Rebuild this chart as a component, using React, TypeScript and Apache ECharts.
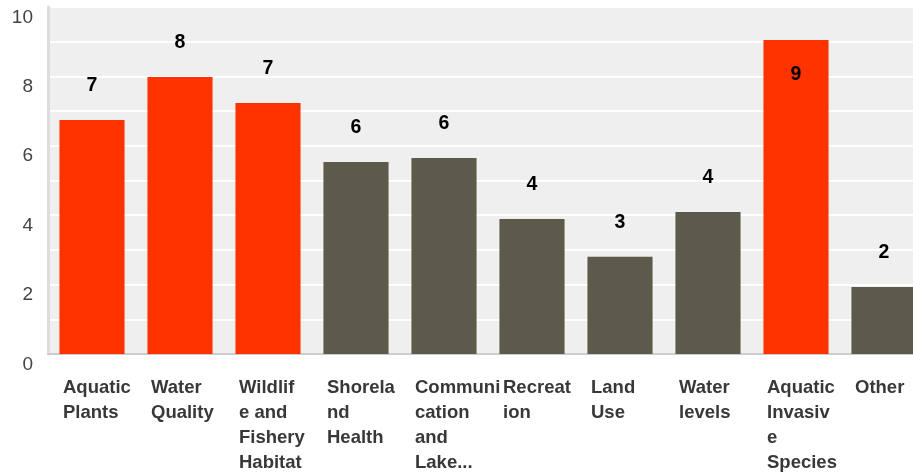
import React, { useEffect, useRef } from "react";
import * as echarts from "echarts";

const categories = [
  "Aquatic Plants",
  "Water Quality",
  "Wildlife and Fishery Habitat",
  "Shoreland Health",
  "Communication and Lake...",
  "Recreation",
  "Land Use",
  "Water levels",
  "Aquatic Invasive Species",
  "Other",
];

const wrappedLabels = [
  "Aquatic\nPlants",
  "Water\nQuality",
  "Wildlif\ne and\nFishery\nHabitat",
  "Shorela\nnd\nHealth",
  "Communi\ncation\nand\nLake...",
  "Recreat\nion",
  "Land\nUse",
  "Water\nlevels",
  "Aquatic\nInvasiv\ne\nSpecies",
  "Other",
];

const values = [6.74, 7.98, 7.23, 5.53, 5.65, 3.89, 2.8, 4.09, 9.05, 1.93];
const highlighted = [true, true, true, false, false, false, false, false, true, false];

const yTicks = [0, 2, 4, 6, 8, 10];

const RED = "#ff3300";
const GRAY = "#5c5a4b";
const FONT = "'Liberation Sans', Arial, sans-serif";

export default function App() {
  const ref = useRef<HTMLDivElement>(null);

  useEffect(() => {
    if (!ref.current) return;
    const chart = echarts.init(ref.current, undefined, { renderer: "svg" });
    const labelMap: Record<string, string> = {};
    categories.forEach((c, i) => (labelMap[c] = wrappedLabels[i]));

    chart.setOption({
      animation: false,
      textStyle: { fontFamily: FONT },
      grid: {
        show: true,
        backgroundColor: "#efefef",
        borderWidth: 0,
        left: 48,
        top: 7,
        bottom: 122,
        width: 880,
        containLabel: false,
        outerBoundsMode: "none",
      },
      xAxis: {
        type: "category",
        data: categories,
        axisLine: { show: true, lineStyle: { color: "#cccccc", width: 2 } },
        axisTick: { show: false },
        axisLabel: {
          interval: 0,
          align: "left",
          verticalAlign: "top",
          padding: [0, 0, 0, -29],
          margin: 20,
          fontSize: 18.5,
          lineHeight: 25,
          fontWeight: "bold",
          color: "#383838",
          fontFamily: FONT,
          formatter: (v: string) => labelMap[v] ?? v,
        },
      },
      yAxis: {
        type: "value",
        min: 0,
        max: 10,
        interval: 1,
        axisLine: { show: true, lineStyle: { color: "#dddddd", width: 3 } },
        axisTick: { show: false },
        splitLine: { show: true, lineStyle: { color: "#ffffff", width: 2 } },
        axisLabel: {
          fontSize: 19,
          color: "#444444",
          margin: 15,
          verticalAlign: "top",
          lineHeight: 18,
          fontFamily: FONT,
          formatter: (v: number) => (yTicks.includes(v) ? String(v) : ""),
        },
      },
      series: [
        {
          type: "bar",
          barCategoryGap: "26%",
          data: values.map((v, i) => ({
            value: v,
            itemStyle: { color: highlighted[i] ? RED : GRAY },
            label:
              v > 8.5
                ? { position: "insideTop", distance: 23 }
                : { position: "top", distance: 26 },
          })),
          label: {
            show: true,
            fontSize: 19.5,
            fontWeight: "bold",
            color: "#000000",
            fontFamily: FONT,
            formatter: (p: any) => String(Math.round(p.value)),
          },
        },
      ],
    });
    return () => chart.dispose();
  }, []);

  return (
    <div
      ref={ref}
      style={{ position: "fixed", left: 0, top: 0, width: 913, height: 476 }}
    />
  );
}
